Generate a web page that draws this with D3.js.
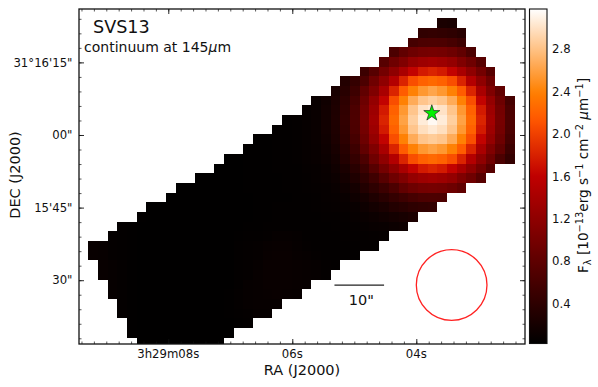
<!DOCTYPE html>
<html>
<head>
<meta charset="utf-8">
<script src="https://cdn.jsdelivr.net/npm/d3@7"></script>
<style>
  body { margin: 0; background: #fff; }
  text { font-family: "DejaVu Sans", sans-serif; fill: #111; }
  .domain { display: none; }
  .tick line { stroke: #111; }
</style>
</head>
<body>
<svg width="598" height="387"></svg>
<script>
// flux per map cell, in 10^-13 erg/s/cm2/um
const rowFirstCol = [36, 34, 33, 31, 30, 28, 26, 25, 23, 22, 20, 19, 17, 16, 14, 13, 11, 9, 8, 6, 5, 3, 2, 0, 0, 1, 1, 2, 2, 3, 3, 4, 4, 5];
const fluxRows = [
  [.24, .22],
  [.43, .44, .43, .4, .35],
  [.6, .65, .66, .65, .6, .53],
  [.65, .82, .92, .98, 1.0, .98, .92, .82, .65],
  [.74, .94, 1.08, 1.24, 1.32, 1.36, 1.32, 1.24, 1.08, .94, .74],
  [.52, .74, .98, 1.2, 1.42, 1.62, 1.76, 1.82, 1.76, 1.62, 1.42, 1.2, .98, .74],
  [.31, .45, .65, .94, 1.2, 1.5, 1.82, 2.08, 2.2, 2.25, 2.2, 2.08, 1.82, 1.5, 1.2, .94],
  [.22, .35, .53, .82, 1.08, 1.42, 1.82, 2.17, 2.4, 2.54, 2.62, 2.54, 2.4, 2.17, 1.82, 1.42, 1.08, .82],
  [.095, .155, .25, .4, .6, .92, 1.24, 1.62, 2.08, 2.4, 2.66, 2.82, 2.88, 2.82, 2.66, 2.4, 2.08, 1.62, 1.24, .92, .6],
  [.075, .1, .17, .27, .43, .65, .98, 1.32, 1.76, 2.2, 2.54, 2.82, 3.0, 3.06, 3.0, 2.82, 2.54, 2.2, 1.76, 1.32, .98, .65],
  [.05, .06, .075, .1, .17, .28, .44, .66, 1.0, 1.36, 1.82, 2.25, 2.6, 2.88, 3.06, 3.14, 3.06, 2.88, 2.6, 2.25, 1.82, 1.36, 1.0, .66],
  [.045, .05, .06, .075, .1, .17, .27, .43, .65, .98, 1.32, 1.76, 2.2, 2.54, 2.82, 2.98, 3.04, 2.98, 2.82, 2.54, 2.2, 1.76, 1.32, .98, .65],
  [.04, .04, .045, .05, .06, .075, .095, .155, .25, .4, .6, .92, 1.24, 1.62, 2.08, 2.4, 2.66, 2.82, 2.86, 2.82, 2.66, 2.4, 2.08, 1.62, 1.24, .92, .6],
  [.04, .04, .04, .045, .05, .06, .07, .09, .14, .22, .35, .53, .82, 1.08, 1.42, 1.82, 2.17, 2.4, 2.54, 2.6, 2.54, 2.4, 2.17, 1.82, 1.42, 1.08, .82, .53],
  [.035, .035, .04, .04, .04, .045, .05, .055, .07, .085, .125, .19, .31, .45, .65, .94, 1.2, 1.5, 1.82, 2.08, 2.2, 2.25, 2.2, 2.08, 1.82, 1.5, 1.2, .94, .65, .45],
  [.035, .035, .035, .04, .04, .04, .045, .05, .05, .065, .075, .1, .155, .24, .36, .52, .74, .98, 1.2, 1.42, 1.62, 1.76, 1.82, 1.76, 1.62, 1.42, 1.2, .98, .74],
  [.035, .035, .035, .035, .035, .04, .04, .04, .04, .045, .05, .055, .07, .085, .125, .19, .28, .4, .54, .74, .94, 1.08, 1.24, 1.32, 1.36, 1.32, 1.24, 1.08, .94, .74],
  [.035, .035, .035, .035, .035, .035, .035, .04, .04, .04, .04, .045, .05, .055, .065, .075, .095, .14, .2, .3, .4, .52, .65, .82, .92, .98, 1.0, .98, .92, .82],
  [.03, .03, .03, .03, .035, .035, .035, .035, .035, .04, .04, .04, .04, .045, .05, .055, .07, .08, .1, .145, .2, .28, .36, .45, .53, .6, .65, .66, .65],
  [.035, .035, .035, .03, .03, .03, .03, .03, .03, .035, .035, .04, .04, .045, .05, .05, .05, .055, .065, .07, .08, .1, .14, .19, .24, .31, .35, .4, .43, .44],
  [.04, .035, .03, .03, .03, .03, .03, .03, .03, .03, .035, .035, .04, .04, .045, .05, .05, .05, .05, .055, .06, .065, .08, .095, .125, .155, .19, .22, .25],
  [.045, .04, .035, .03, .03, .03, .03, .03, .03, .03, .03, .035, .035, .04, .04, .045, .05, .05, .05, .05, .05, .05, .055, .06, .065, .075, .085, .1, .125, .14],
  [.06, .05, .04, .035, .03, .03, .03, .03, .03, .03, .03, .03, .035, .04, .045, .05, .06, .07, .07, .065, .05, .05, .05, .05, .055, .055, .06, .065, .075],
  [.09, .08, .06, .05, .04, .035, .03, .03, .03, .03, .03, .03, .03, .03, .035, .045, .055, .065, .08, .09, .09, .07, .055, .05, .05, .05, .05, .05, .055, .055],
  [.09, .08, .06, .05, .04, .035, .03, .03, .03, .03, .03, .03, .03, .03, .035, .045, .055, .065, .085, .095, .095, .08, .07, .055, .05, .05, .05, .05],
  [.085, .07, .055, .04, .035, .03, .03, .03, .03, .03, .03, .03, .03, .035, .045, .06, .07, .095, .1, .1, .09, .08, .07, .06, .05],
  [.085, .07, .055, .04, .035, .03, .03, .03, .03, .03, .03, .03, .03, .035, .05, .06, .08, .1, .1, .1, .09, .08, .07, .06],
  [.07, .055, .04, .035, .03, .03, .03, .03, .03, .03, .03, .03, .035, .05, .07, .08, .1, .1, .1, .09, .08],
  [.07, .055, .04, .035, .03, .03, .03, .03, .03, .03, .03, .03, .04, .06, .07, .08, .09, .1, .09, .08],
  [.055, .04, .035, .03, .03, .03, .03, .03, .03, .03, .03, .04, .06, .07, .08, .08, .08],
  [.055, .04, .035, .03, .03, .03, .03, .03, .03, .03, .03, .04, .05, .06, .07, .07],
  [.04, .035, .03, .03, .03, .03, .03, .03, .03, .03, .035, .04, .045],
  [.04, .035, .03, .03, .03, .03, .03, .03, .03, .03, .035],
  [.035, .03, .03, .03, .03, .03, .03, .03, .03]
];

// map grid, RA seconds after 3h29m and Dec arcsec after 31d16m
const gridRa = 9.29, cellRa = 0.15635;
const gridDec = 24.11, cellDec = 2;
const source = {ra: 3.75, dec: 4.5};
const beam = {ra: 3.43, dec: -31, diameter: 14.6};
const scaleBar = {ra: [5.32, 4.52], dec: -31, label: '10"'};

const raTicks = [8, 6, 4];
const raTickLabels = ['3h29m08s', '06s', '04s'];
const decTicks = [15, 0, -15, -30];
const decTickLabels = ['31\u00b016\'15"', '00"', '15\'45"', '30"'];
const fluxTicks = [0.4, 0.8, 1.2, 1.6, 2.0, 2.4, 2.8];
const fluxRange = [0.023, 3.177];

const svg = d3.select('svg');
const plot = {left: 79, right: 525, top: 9, bottom: 344};

const x = d3.scaleLinear().domain([9.44, 2.247]).range([plot.left, plot.right]);
const y = d3.scaleLinear().domain([26.03, -43.18]).range([plot.top, plot.bottom]);

// gist_heat
const heat = t => `rgb(${255 * Math.min(1, 1.5 * t)},${255 * Math.max(0, 2 * t - 1)},${255 * Math.max(0, 4 * t - 3)})`;
const color = d3.scaleSequential(heat).domain(fluxRange);

svg.append('defs').append('clipPath').attr('id', 'plot-clip')
  .append('rect')
    .attr('x', plot.left).attr('y', plot.top)
    .attr('width', plot.right - plot.left).attr('height', plot.bottom - plot.top);

const cells = [];
fluxRows.forEach((row, r) => {
  row.forEach((v, i) => cells.push({col: rowFirstCol[r] + i, row: r, value: v}));
});

const colEdge = c => x(gridRa - c * cellRa);
const rowEdge = r => y(gridDec - r * cellDec);

svg.append('g').attr('clip-path', 'url(#plot-clip)')
  .selectAll('rect')
  .data(cells)
  .enter().append('rect')
    .attr('x', d => colEdge(d.col))
    .attr('y', d => rowEdge(d.row))
    .attr('width', d => colEdge(d.col + 1) - colEdge(d.col))
    .attr('height', d => rowEdge(d.row + 1) - rowEdge(d.row))
    .attr('fill', d => color(d.value))
    .attr('shape-rendering', 'crispEdges');

// ticks point inwards on all four sides
const raMinor = d3.range(2.4, 9.45, 0.2);
const decMinor = d3.range(-42, 26, 3);

function ticks(axis, tx, ty, values, size, width) {
  const g = svg.append('g')
    .attr('transform', `translate(${tx},${ty})`)
    .call(axis.tickValues(values).tickSize(size).tickFormat(''));
  g.selectAll('line').attr('stroke-width', width);
}

[[raMinor, 2.5, 0.7], [raTicks, 5, 0.9]].forEach(([v, s, w]) => {
  ticks(d3.axisBottom(x), 0, plot.bottom, v, -s, w);
  ticks(d3.axisTop(x), 0, plot.top, v, -s, w);
});
[[decMinor, 2.5, 0.7], [decTicks, 5, 0.9]].forEach(([v, s, w]) => {
  ticks(d3.axisLeft(y), plot.left, 0, v, -s, w);
  ticks(d3.axisRight(y), plot.right, 0, v, -s, w);
});

svg.append('rect')
  .attr('x', plot.left).attr('y', plot.top)
  .attr('width', plot.right - plot.left).attr('height', plot.bottom - plot.top)
  .attr('fill', 'none').attr('stroke', '#111').attr('stroke-width', 1.3);

svg.selectAll('.ra-label')
  .data(raTicks)
  .enter().append('text')
    .attr('x', d => x(d)).attr('y', 358)
    .attr('text-anchor', 'middle').attr('font-size', 11.7)
    .text((d, i) => raTickLabels[i]);

svg.selectAll('.dec-label')
  .data(decTicks)
  .enter().append('text')
    .attr('x', 72.5).attr('y', d => y(d) + 4.2)
    .attr('text-anchor', 'end').attr('font-size', 11.7)
    .text((d, i) => decTickLabels[i]);

svg.append('text')
  .attr('x', 302).attr('y', 375)
  .attr('text-anchor', 'middle').attr('font-size', 14.5)
  .text('RA (J2000)');

svg.append('text')
  .attr('transform', 'translate(20,175) rotate(-90)')
  .attr('text-anchor', 'middle').attr('font-size', 14.5)
  .text('DEC (J2000)');

svg.append('text')
  .attr('x', 93).attr('y', 33).attr('font-size', 17.6)
  .text('SVS13');

const subtitle = svg.append('text')
  .attr('x', 84).attr('y', 52).attr('font-size', 14);
subtitle.append('tspan').text('continuum at 145');
subtitle.append('tspan').attr('font-style', 'italic').text('\u03bc');
subtitle.append('tspan').text('m');

// source, beam and angular scale
svg.append('path')
  .attr('d', d3.symbol(d3.symbolStar, 80)())
  .attr('transform', `translate(${x(source.ra)},${y(source.dec)})`)
  .attr('fill', '#00f000').attr('stroke', '#222').attr('stroke-width', 0.7);

svg.append('circle')
  .attr('cx', x(beam.ra)).attr('cy', y(beam.dec))
  .attr('r', (y(0) - y(beam.diameter)) / 2)
  .attr('fill', 'none').attr('stroke', '#f22').attr('stroke-width', 1.3);

svg.append('line')
  .attr('x1', x(scaleBar.ra[0])).attr('x2', x(scaleBar.ra[1]))
  .attr('y1', y(scaleBar.dec)).attr('y2', y(scaleBar.dec))
  .attr('stroke', '#222').attr('stroke-width', 1.3);

svg.append('text')
  .attr('x', x((scaleBar.ra[0] + scaleBar.ra[1]) / 2) + 2).attr('y', 305)
  .attr('text-anchor', 'middle').attr('font-size', 14.5)
  .text(scaleBar.label);

// colour bar
const bar = {left: 529.5, right: 547, top: 9, bottom: 343.5};
const yBar = d3.scaleLinear().domain(fluxRange).range([bar.bottom, bar.top]);

const grad = svg.select('defs').append('linearGradient')
  .attr('id', 'heat-grad')
  .attr('x1', 0).attr('x2', 0).attr('y1', 1).attr('y2', 0);
grad.selectAll('stop')
  .data(d3.range(0, 1.001, 0.02))
  .enter().append('stop')
    .attr('offset', d => d)
    .attr('stop-color', d => heat(d));

svg.append('rect')
  .attr('x', bar.left).attr('y', bar.top)
  .attr('width', bar.right - bar.left).attr('height', bar.bottom - bar.top)
  .attr('fill', 'url(#heat-grad)')
  .attr('stroke', '#111').attr('stroke-width', 1.1);

svg.append('g')
  .attr('transform', `translate(${bar.right},0)`)
  .call(d3.axisRight(yBar).tickValues(fluxTicks).tickSize(0).tickPadding(5).tickFormat(d3.format('.1f')))
  .call(g => g.selectAll('text').attr('font-size', 11.7).attr('font-family', '"DejaVu Sans"').attr('fill', '#111'));

const cbLabel = svg.append('text')
  .attr('transform', 'translate(588,175.5) rotate(-90)')
  .attr('text-anchor', 'middle').attr('font-size', 13.6);

const cbParts = [
  ['F', 0], ['\u03bb', 1], [' [10', 0], ['\u221213', -1], ['erg s', 0], ['\u22121', -1],
  [' cm', 0], ['\u22122', -1], [' ', 0], ['\u03bc', 2], ['m', 0], ['\u22121', -1], [']', 0]
];
let shift = 0;
cbParts.forEach(([t, kind]) => {
  const target = kind === 1 ? 3 : kind === -1 ? -5 : 0;
  const span = cbLabel.append('tspan').attr('dy', target - shift).text(t);
  if (kind === 1 || kind === -1) span.attr('font-size', 9.8);
  if (kind === 2) span.attr('font-style', 'italic');
  shift = target;
});
</script>
</body>
</html>
